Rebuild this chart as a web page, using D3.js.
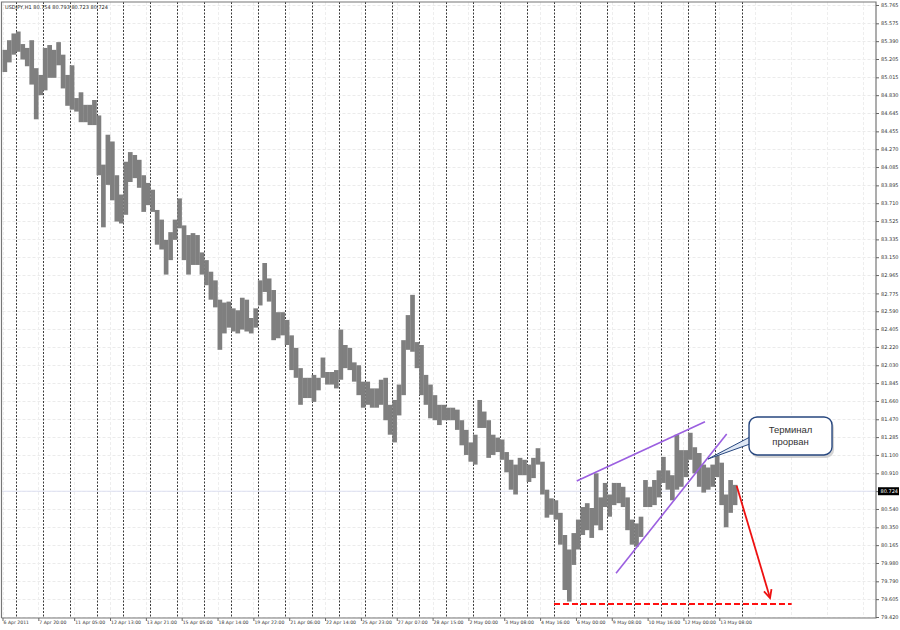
<!DOCTYPE html>
<html><head><meta charset="utf-8">
<script src="https://cdn.jsdelivr.net/npm/d3@7"></script>
<style>body{margin:0;background:#fff} svg{display:block}</style>
</head><body><svg id="c" width="900" height="630"></svg>
<script>
// ---- data ----
const symbol = "USDJPY,H1";
const lastOHLC = ["80.754", "80.793", "80.723", "80.724"];
const lastPrice = 80.724;
const barsPerColumn = 4;   // each value pair below covers 4 hourly bars
const highs = [85.30,85.40,85.47,85.49,85.36,85.32,85.40,85.11,85.04,85.32,85.35,85.30,85.38,85.25,85.04,85.14,84.80,84.86,84.73,84.73,
84.78,84.62,84.11,84.42,84.35,84.00,83.80,84.14,84.24,84.21,84.16,84.00,83.92,83.85,83.64,83.54,83.33,83.41,83.54,83.76,
83.48,83.38,83.40,83.38,83.20,83.12,83.00,82.91,82.71,82.68,82.69,82.62,82.60,82.73,82.71,82.52,82.62,82.91,83.09,82.93,
82.81,82.58,82.58,82.50,82.34,82.21,82.00,81.90,81.90,81.93,81.90,82.11,81.96,81.96,81.98,82.40,82.24,82.21,82.06,82.03,
81.86,81.86,81.79,81.79,81.88,81.90,81.62,81.67,81.83,82.29,82.55,82.76,82.27,82.24,81.93,81.83,81.72,81.62,81.62,81.59,
81.59,81.57,81.46,81.36,81.23,81.31,81.67,81.55,81.46,81.31,81.28,81.26,81.13,81.05,81.00,81.07,81.05,81.00,81.07,81.17,
81.03,80.74,80.65,80.63,80.50,80.27,80.12,80.29,80.43,80.56,80.60,80.55,80.91,80.66,80.81,80.69,80.81,80.81,80.77,80.66,
80.43,80.39,80.46,80.84,80.77,80.84,80.94,81.08,80.94,80.89,81.31,81.15,81.15,81.33,81.18,81.12,81.00,80.97,81.00,81.10,
81.02,80.69,80.84,80.79];
const lows = [85.07,85.17,85.25,85.28,85.20,85.13,84.94,84.58,84.83,84.88,85.01,85.01,85.14,84.90,84.72,84.68,84.66,84.55,84.55,84.52,
84.52,84.00,83.46,83.90,83.74,83.52,83.50,83.59,83.93,83.97,83.87,83.62,83.69,83.62,83.28,83.23,82.97,83.12,83.33,83.45,
83.12,82.97,83.07,83.07,82.97,82.86,82.71,82.63,82.19,82.36,82.42,82.38,82.36,82.40,82.38,82.36,82.42,82.65,82.79,82.69,
82.29,82.31,82.34,82.24,81.98,81.90,81.62,81.69,81.69,81.65,81.77,81.90,81.83,81.83,81.79,81.88,82.00,81.98,81.86,81.72,
81.59,81.62,81.59,81.59,81.62,81.46,81.31,81.23,81.51,81.72,82.19,82.17,82.00,81.72,81.62,81.48,81.46,81.41,81.46,81.46,
81.46,81.36,81.20,81.10,81.03,81.00,81.38,81.38,81.07,81.10,81.13,81.05,80.92,80.74,80.69,80.89,80.89,80.82,80.86,81.00,
80.69,80.45,80.48,80.43,80.17,79.70,79.58,79.96,80.12,80.27,80.32,80.24,80.37,80.32,80.56,80.46,80.58,80.60,80.56,80.32,
80.17,80.15,80.25,80.56,80.56,80.58,80.66,80.81,80.74,80.63,80.74,80.77,80.87,81.05,80.91,80.77,80.71,80.74,80.77,80.87,
80.58,80.35,80.50,80.58];
const priceTicks = [85.765,85.575,85.390,85.205,85.015,84.830,84.645,84.455,84.270,84.085,83.895,83.710,83.525,83.335,83.150,
82.965,82.775,82.590,82.405,82.220,82.030,81.845,81.660,81.470,81.285,81.100,80.910,80.725,80.540,80.350,80.165,79.980,79.790,79.605,79.420];
const timeLabels = ["6 Apr 2011","7 Apr 20:00","11 Apr 05:00","12 Apr 13:00","13 Apr 21:00","15 Apr 05:00","18 Apr 14:00",
"19 Apr 22:00","21 Apr 06:00","22 Apr 14:00","25 Apr 23:00","27 Apr 07:00","28 Apr 15:00","2 May 00:00","3 May 08:00",
"4 May 16:00","6 May 00:00","9 May 08:00","10 May 16:00","12 May 00:00","13 May 08:00"];
const barsPerLabel = 32;
const firstSeparatorBar = 12, barsPerDay = 24, separatorCount = 28;
// annotations in [bar index, price]
const channelUpper = [[512.7, 80.83], [627.2, 81.445]];
const channelLower = [[547.8, 79.873], [646.6, 81.317]];
const supportLine = {price: 79.555, from: 492.4, to: 704.6};
const forecastArrow = [[655.5, 80.78], [685.3, 79.617]];
const callout = {text: ["Терминал", "прорван"], center: [703.6, 81.297], tip: [629.9, 81.058]};

// ---- layout ----
const svg = d3.select("#c");
const L = 2.5, R = 876, T = 2, B = 618;
const x = d3.scaleLinear().domain([0, 24]).range([L, L + 26.88]);
const y = d3.scaleLinear().domain([79.420, 85.765]).range([617, 5]);
const totalBars = (R - L) / (x(1) - x(0));

// grid horizontal
svg.append("g").selectAll("line").data(priceTicks).join("line")
  .attr("x1", L).attr("x2", R).attr("y1", d => Math.round(y(d)) + 0.5).attr("y2", d => Math.round(y(d)) + 0.5)
  .attr("stroke", "#ebebeb").attr("stroke-width", 1).attr("stroke-dasharray", "3,2");
// grid vertical at label positions
const gridBars = d3.range(0, totalBars, barsPerLabel);
svg.append("g").selectAll("line").data(gridBars).join("line")
  .attr("x1", d => Math.round(x(d)) + 0.5).attr("x2", d => Math.round(x(d)) + 0.5).attr("y1", T).attr("y2", B)
  .attr("stroke", "#eeeeee").attr("stroke-width", 1).attr("stroke-dasharray", "3,2");
// daily separators
const sepBars = d3.range(separatorCount).map(i => firstSeparatorBar + i * barsPerDay);
svg.append("g").selectAll("line").data(sepBars).join("line")
  .attr("x1", d => Math.round(x(d)) + 0.5).attr("x2", d => Math.round(x(d)) + 0.5).attr("y1", T).attr("y2", B)
  .attr("stroke", "#3c3c3c").attr("stroke-width", 1).attr("stroke-dasharray", "2,1.5");
// bid line
svg.append("line").attr("x1", L).attr("x2", R).attr("y1", y(lastPrice)).attr("y2", y(lastPrice))
  .attr("stroke", "#dde0f2").attr("stroke-width", 1);

// price bars
svg.append("g").selectAll("rect").data(highs).join("rect")
  .attr("x", (d, i) => x(i * barsPerColumn))
  .attr("width", x(barsPerColumn) - x(0) + 0.2)
  .attr("y", d => y(d))
  .attr("height", (d, i) => Math.max(1, y(lows[i]) - y(d)))
  .attr("fill", "#7f7f7f");

// annotations
const pt = p => [x(p[0]), y(p[1])];
svg.append("line").attr("x1", pt(channelUpper[0])[0]).attr("y1", pt(channelUpper[0])[1])
  .attr("x2", pt(channelUpper[1])[0]).attr("y2", pt(channelUpper[1])[1])
  .attr("stroke", "#9b5fe0").attr("stroke-width", 1.6);
svg.append("line").attr("x1", pt(channelLower[0])[0]).attr("y1", pt(channelLower[0])[1])
  .attr("x2", pt(channelLower[1])[0]).attr("y2", pt(channelLower[1])[1])
  .attr("stroke", "#9b5fe0").attr("stroke-width", 1.6);
svg.append("line").attr("x1", x(supportLine.from)).attr("x2", x(supportLine.to))
  .attr("y1", y(supportLine.price)).attr("y2", y(supportLine.price))
  .attr("stroke", "#ff1010").attr("stroke-width", 2).attr("stroke-dasharray", "6,3");
{
  const [a, b] = [pt(forecastArrow[0]), pt(forecastArrow[1])];
  svg.append("line").attr("x1", a[0]).attr("y1", a[1]).attr("x2", b[0]).attr("y2", b[1])
    .attr("stroke", "#ee1111").attr("stroke-width", 1.8);
  const ang = Math.atan2(b[1] - a[1], b[0] - a[0]);
  const hl = 9, hw = 0.45;
  svg.append("polyline").attr("points", [
    [b[0] - hl * Math.cos(ang - hw), b[1] - hl * Math.sin(ang - hw)], b,
    [b[0] - hl * Math.cos(ang + hw), b[1] - hl * Math.sin(ang + hw)]].map(p => p.join(",")).join(" "))
    .attr("fill", "none").attr("stroke", "#ee1111").attr("stroke-width", 1.8);
}
{
  const [cx, cy] = pt(callout.center), tip = pt(callout.tip);
  const w = 83, h = 38;
  const g = svg.append("g");
  g.append("rect").attr("x", cx - w / 2 + 2).attr("y", cy - h / 2 + 3).attr("width", w).attr("height", h)
    .attr("rx", 8).attr("fill", "#b8b8b8").attr("opacity", 0.6);
  g.append("polygon").attr("points", [[cx - w / 2 + 1, cy + 1], [cx - w / 2 + 1, cy + 8], tip].map(p => p.join(",")).join(" "))
    .attr("fill", "#dfe8f5").attr("stroke", "#27477f").attr("stroke-width", 1);
  g.append("rect").attr("x", cx - w / 2).attr("y", cy - h / 2).attr("width", w).attr("height", h)
    .attr("rx", 8).attr("fill", "#fff").attr("stroke", "#27477f").attr("stroke-width", 1.4);
  g.selectAll("text").data(callout.text).join("text")
    .attr("x", cx).attr("y", (d, i) => cy - 3 + i * 12).attr("text-anchor", "middle")
    .attr("font-family", "Liberation Sans, Arial, sans-serif").attr("font-size", 9.5).attr("fill", "#333")
    .text(d => d);
}

// frame
svg.append("path").attr("d", `M${L - 1},${B}V${T}H${R}V${B}H${L - 1}`)
  .attr("fill", "none").attr("stroke", "#777").attr("stroke-width", 1.2);

// price axis
const yAxis = d3.axisRight(y).tickValues(priceTicks).tickSize(3).tickPadding(2).tickFormat(d3.format(".3f"));
const ya = svg.append("g").attr("transform", `translate(${R},0)`).call(yAxis);
ya.select(".domain").remove();
ya.selectAll("line").attr("stroke", "#666");
ya.selectAll("text").attr("font-family", "DejaVu Sans, sans-serif").attr("font-size", 5).attr("fill", "#333");
// last price tag
svg.append("rect").attr("x", R + 2).attr("y", y(lastPrice) - 4).attr("width", 21).attr("height", 8).attr("fill", "#000");
svg.append("text").attr("x", R + 4.5).attr("y", y(lastPrice)).attr("dy", "0.32em")
  .attr("font-family", "DejaVu Sans, sans-serif").attr("font-size", 5).attr("fill", "#fff").text(lastPrice.toFixed(3));

// time axis
const tickBars = timeLabels.map((t, i) => i * barsPerLabel);
const xAxis = d3.axisBottom(x).tickValues(tickBars).tickSize(3).tickFormat((d, i) => timeLabels[i]);
const xa = svg.append("g").attr("transform", `translate(0,${B})`).call(xAxis);
xa.select(".domain").remove();
xa.selectAll("line").attr("stroke", "#666");
xa.selectAll("text").attr("text-anchor", "start").attr("dx", "0.5").attr("y", 3)
  .attr("font-family", "DejaVu Sans, sans-serif").attr("font-size", 4.6).attr("fill", "#333");

// header
svg.append("text").attr("x", 5).attr("y", 8.5)
  .attr("font-family", "DejaVu Sans, sans-serif").attr("font-size", 5).attr("fill", "#222")
  .text(symbol + "  " + lastOHLC.join(" "));
</script></body></html>
